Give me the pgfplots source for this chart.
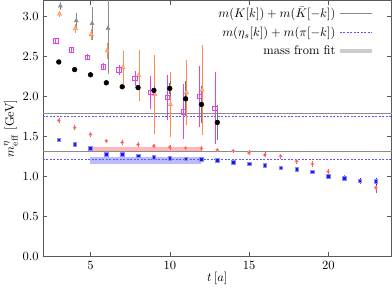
\documentclass[border=0pt]{standalone}
\usepackage{pgfplots}
\pgfplotsset{compat=1.18}
\definecolor{kgrey}{rgb}{0.55,0.55,0.55}
\definecolor{bandgrey}{rgb}{0.8,0.8,0.8}
\definecolor{mred}{rgb}{1,0.25,0.25}
\definecolor{mblue}{rgb}{0.1,0.1,0.95}
\definecolor{dblue}{rgb}{0.35,0.35,1}
\definecolor{mmag}{rgb}{0.9,0.25,0.9}
\definecolor{morange}{rgb}{1,0.55,0.3}
\definecolor{bandred}{rgb}{1,0.72,0.72}
\definecolor{bandblue}{rgb}{0.62,0.62,1}

\pgfplotstableread{
t y e
3 2.43 0.01
4 2.335 0.01
5 2.27 0.01
6 2.17 0.01
7 2.12 0.01
8 2.11 0.015
9 2.075 0.04
10 2.10 0.07
11 1.97 0.20
12 1.90 0.21
13 1.675 0.20
}\blackdata

\pgfplotstableread{
t y e
3.1 3.13 0.03
4.1 2.945 0.07
5.1 2.91 0.18
6.1 2.85 0.55
}\greydata

\pgfplotstableread{
t y e
3.05 3.03 0.02
4.05 2.85 0.04
5.05 2.775 0.05
6.05 2.57 0.08
7.05 2.36 0.19
8.05 2.265 0.30
9.05 2.025 0.47
10.05 1.90 0.39
11.05 2.05 0.39
12.05 2.08 0.54
}\orangedata

\pgfplotstableread{
t y e
2.8 2.695 0.01
3.8 2.58 0.01
4.8 2.49 0.015
5.8 2.37 0.025
6.8 2.33 0.04
7.8 2.225 0.075
8.8 2.05 0.19
9.85 1.99 0.26
10.85 1.81 0.32
11.85 2.00 0.36
12.85 1.85 0.43
}\magdata

\pgfplotstableread{
t y e
3 1.70 0.008
4 1.61 0.008
5 1.525 0.008
6 1.445 0.008
7 1.425 0.008
8 1.40 0.008
9 1.38 0.008
10 1.365 0.008
11 1.355 0.008
12 1.35 0.008
13 1.33 0.008
14 1.32 0.008
15 1.295 0.01
16 1.27 0.01
17 1.254 0.01
18 1.19 0.012
19 1.158 0.015
20 1.06 0.015
21 0.98 0.02
22 0.945 0.02
23 0.86 0.05
}\reddata

\pgfplotstableread{
t y e
3 1.46 0.005
4 1.40 0.005
5 1.355 0.005
6 1.28 0.005
7 1.28 0.005
8 1.26 0.005
9 1.24 0.005
10 1.225 0.005
11 1.22 0.005
12 1.215 0.005
13 1.20 0.005
14 1.18 0.005
15 1.16 0.005
16 1.14 0.005
17 1.11 0.005
18 1.09 0.005
19 1.06 0.005
20 1.00 0.008
21 0.975 0.01
22 0.945 0.01
23 0.94 0.02
}\bluedata

\begin{document}
\begin{tikzpicture}
\begin{axis}[
  scale only axis, width=279pt, height=205pt,
  xmin=2, xmax=24, ymin=0, ymax=3.2,
  xtick={5,10,15,20},
  ytick={0,0.5,1,1.5,2,2.5,3},
  yticklabel style={/pgf/number format/fixed,/pgf/number format/fixed zerofill,/pgf/number format/precision=1},
  xlabel={$t\,[a]$},
  ylabel={$m^{\eta}_{\mathrm{eff}}$ [GeV]},
  xlabel style={yshift=4pt},
  ylabel style={yshift=-3pt},
  tick align=inside, major tick length=3.5pt,
  axis line style={black!65, line width=0.5pt},
  every tick/.style={black!65},
  legend style={draw=none, fill=none, at={(0.96,0.99)}, anchor=north east, row sep=3pt,
    nodes={inner sep=1.5pt}},
  legend cell align=right, legend plot pos=right,
  legend image code/.code={\draw[#1] (0cm,0cm) -- (0.9cm,0cm);},
  error bars/y dir=both, error bars/y explicit,
  error bars/error mark options={mark size=1.3pt},
]
\addlegendimage{kgrey, line width=0.6pt}
\addlegendentry{$m(K[k])+m(\bar{K}[-k])$}
\addlegendimage{dblue, dash pattern=on 1.6pt off 1.2pt, line width=0.5pt}
\addlegendentry{$m(\eta_s[k])+m(\pi[-k])$}
\addlegendimage{bandgrey, line width=3.5pt}
\addlegendentry{mass from fit}

% fit bands
\addplot[fill=bandred, draw=none, forget plot] coordinates {(5,1.31) (12,1.31) (12,1.37) (5,1.37)} -- cycle;
\addplot[fill=bandblue, fill opacity=0.7, draw=none, forget plot] coordinates {(5,1.155) (12,1.155) (12,1.24) (5,1.24)} -- cycle;
\addplot[fill=bandgrey, draw=none, forget plot] coordinates {(2,1.775) (24,1.775) (24,1.795) (2,1.795)} -- cycle;

% reference lines
\addplot[kgrey, line width=0.6pt, forget plot] coordinates {(2,1.31) (24,1.31)};
\addplot[kgrey, line width=0.6pt, forget plot] coordinates {(2,1.785) (24,1.785)};
\addplot[dblue, dash pattern=on 1.6pt off 1.2pt, line width=0.5pt, forget plot] coordinates {(2,1.21) (24,1.21)};
\addplot[dblue, dash pattern=on 1.6pt off 1.2pt, line width=0.5pt, forget plot] coordinates {(2,1.75) (24,1.75)};

% data
\addplot[only marks, kgrey, mark=triangle*, mark size=1.8pt, mark options={fill=kgrey},
  error bars/error bar style={kgrey, line width=0.45pt}, forget plot]
  table[x=t, y=y, y error=e] {\greydata};
\addplot[only marks, morange, mark=triangle*, mark size=1.9pt, mark options={fill=morange!60},
  error bars/error bar style={morange, line width=0.5pt}, forget plot]
  table[x=t, y=y, y error=e] {\orangedata};
\addplot[only marks, mmag, mark=square, mark size=1.8pt, mark options={line width=0.5pt},
  error bars/error bar style={mmag, line width=0.5pt}, forget plot]
  table[x=t, y=y, y error=e] {\magdata};
\addplot[only marks, black, mark=*, mark size=1.9pt,
  error bars/error bar style={black!55, line width=0.5pt}, forget plot]
  table[x=t, y=y, y error=e] {\blackdata};
\addplot[only marks, mred, mark=*, mark size=1.3pt, mark options={draw=mred!50, fill=mred},
  error bars/error bar style={mred, line width=0.45pt}, forget plot]
  table[x=t, y=y, y error=e] {\reddata};
\addplot[only marks, mblue, mark=square*, mark size=1.4pt, mark options={draw=mblue!50, fill=mblue},
  error bars/error bar style={mblue, line width=0.45pt}, forget plot]
  table[x=t, y=y, y error=e] {\bluedata};
\end{axis}
\end{tikzpicture}
\end{document}
